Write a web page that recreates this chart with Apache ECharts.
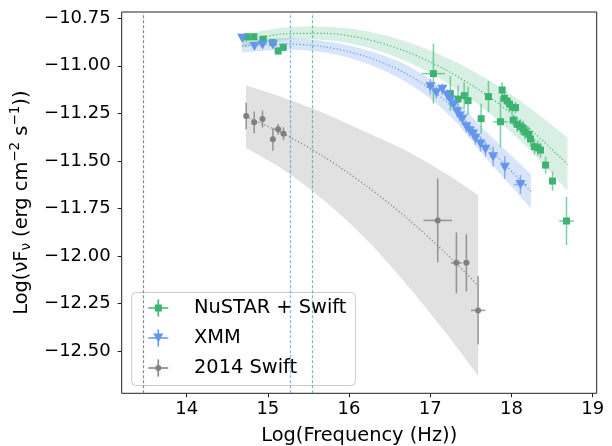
<!DOCTYPE html>
<html>
<head>
<meta charset="utf-8">
<script src="https://cdn.jsdelivr.net/npm/echarts@6/dist/echarts.min.js"></script>
<style>
  html, body { margin: 0; padding: 0; background: #fff; }
  #chart { width: 612px; height: 446px; }
</style>
</head>
<body>
<div id="chart"></div>
<script>
// ---- data (log units) ----
const xTicks = [14, 15, 16, 17, 18, 19];
const yTicks = [-12.5, -12.25, -12.0, -11.75, -11.5, -11.25, -11.0, -10.75];

// NuSTAR + Swift
const greenFreq = [14.745, 14.828, 14.942, 15.062, 15.127, 15.189, 17.039, 17.248, 17.343, 17.417, 17.466, 17.627, 17.717, 17.865, 17.886, 17.914, 17.947, 17.976, 18.009, 18.050, 18.021, 18.071, 18.111, 18.145, 18.164, 18.214, 18.235, 18.284, 18.325, 18.358, 18.420, 18.506, 18.678];
const greenFlux = [-10.847, -10.847, -10.860, -10.878, -10.922, -10.903, -11.041, -11.145, -11.175, -11.157, -11.183, -11.278, -11.162, -11.294, -11.127, -11.171, -11.185, -11.201, -11.218, -11.220, -11.285, -11.308, -11.320, -11.329, -11.347, -11.360, -11.385, -11.425, -11.431, -11.443, -11.522, -11.606, -11.816];
const greenFluxErr = [0.015, 0.015, 0.015, 0.015, 0.02, 0.02, 0.158, 0.092, 0.07, 0.07, 0.074, 0.079, 0.082, 0.134, 0.04, 0.03, 0.03, 0.03, 0.03, 0.03, 0.03, 0.04, 0.04, 0.04, 0.04, 0.04, 0.04, 0.04, 0.04, 0.04, 0.045, 0.05, 0.127];
const greenFreqErr = [0, 0, 0, 0, 0, 0, 0.144, 0.02, 0.02, 0.02, 0.02, 0.02, 0.02, 0.09, 0.02, 0.02, 0.02, 0.02, 0.02, 0.02, 0.02, 0.02, 0.02, 0.02, 0.02, 0.02, 0.02, 0.02, 0.02, 0.02, 0.02, 0.02, 0.09];

// XMM
const blueFreq = [14.683, 14.835, 14.934, 15.062, 17.001, 17.076, 17.149, 17.207, 17.248, 17.289, 17.331, 17.363, 17.396, 17.445, 17.486, 17.528, 17.556, 17.618, 17.680, 17.775, 17.918, 18.111];
const blueFlux = [-10.855, -10.899, -10.890, -10.890, -11.110, -11.141, -11.123, -11.153, -11.180, -11.206, -11.241, -11.264, -11.281, -11.320, -11.341, -11.359, -11.381, -11.411, -11.439, -11.478, -11.534, -11.624];
const blueFluxErr = [0.01, 0.01, 0.01, 0.01, 0.04, 0.03, 0.03, 0.03, 0.03, 0.03, 0.03, 0.03, 0.03, 0.03, 0.03, 0.03, 0.035, 0.04, 0.04, 0.053, 0.06, 0.05];
const blueFreqErr = [0, 0, 0, 0, 0.05, 0.03, 0.03, 0.03, 0.03, 0.03, 0.03, 0.03, 0.03, 0.03, 0.03, 0.03, 0.03, 0.03, 0.03, 0.04, 0.03, 0.08];

// 2014 Swift
const grayFreq = [14.733, 14.832, 14.934, 15.062, 15.127, 15.193, 17.092, 17.322, 17.445, 17.590];
const grayFlux = [-11.264, -11.297, -11.280, -11.386, -11.334, -11.357, -11.813, -12.036, -12.036, -12.286];
const grayFluxErr = [0.07, 0.057, 0.044, 0.06, 0.028, 0.033, 0.22, 0.16, 0.15, 0.18];
const grayFreqErr = [0, 0, 0, 0, 0, 0, 0.176, 0.068, 0.037, 0.088];

// model curves and their uncertainty bands
const greenModelX = [14.69, 15.2, 15.7, 16.2, 16.7, 17.2, 17.7, 18.2, 18.69];
const greenModel = [-10.870, -10.832, -10.829, -10.859, -10.924, -11.023, -11.155, -11.322, -11.518];
const greenUpper = [-10.835, -10.799, -10.794, -10.817, -10.872, -10.957, -11.070, -11.212, -11.378];
const greenLower = [-10.905, -10.865, -10.864, -10.901, -10.976, -11.089, -11.240, -11.432, -11.658];

const blueModelX = [14.68, 15.2, 15.7, 16.2, 16.7, 17.2, 17.7, 18.24];
const blueModel = [-10.895, -10.885, -10.900, -10.950, -11.040, -11.190, -11.420, -11.660];
const blueUpper = [-10.860, -10.855, -10.870, -10.915, -10.995, -11.135, -11.350, -11.570];
const blueLower = [-10.930, -10.915, -10.930, -10.985, -11.085, -11.245, -11.490, -11.750];

const grayModelX = [14.73, 15.2, 15.7, 16.2, 16.7, 17.2, 17.59];
const grayModel = [-11.267, -11.359, -11.481, -11.627, -11.796, -11.989, -12.156];
const grayUpper = [-11.102, -11.169, -11.251, -11.347, -11.446, -11.569, -11.680];
const grayLower = [-11.432, -11.549, -11.711, -11.907, -12.146, -12.409, -12.632];

const vLines = [13.46, 15.28, 15.555];

const GREEN = '#3cb371', BLUE = '#6495ed', GRAY = '#808080';
const FONT = 'DejaVu Sans';

const chart = echarts.init(document.getElementById('chart'));

function pairs(xs, ys) { return xs.map((x, i) => [x, ys[i]]); }

// Catmull-Rom through pixel points so the band edge is drawn smooth
function spline(p, n) {
  const out = [];
  for (let i = 0; i < p.length - 1; i++) {
    const p0 = p[Math.max(i - 1, 0)], p1 = p[i], p2 = p[i + 1], p3 = p[Math.min(i + 2, p.length - 1)];
    for (let k = 0; k < n; k++) {
      const t = k / n, t2 = t * t, t3 = t2 * t;
      out.push([0, 1].map(j => 0.5 * (2 * p1[j] + (p2[j] - p0[j]) * t +
        (2 * p0[j] - 5 * p1[j] + 4 * p2[j] - p3[j]) * t2 + (3 * p1[j] - p0[j] - 3 * p2[j] + p3[j]) * t3)));
    }
  }
  out.push(p[p.length - 1]);
  return out;
}

// shaded uncertainty band between lower and upper edges
function band(xs, lo, hi, color) {
  return {
    type: 'custom', z: 1, silent: true,
    data: xs.map((x, i) => [x, lo[i], hi[i]]),
    encode: { x: 0, y: [1, 2] },
    renderItem: function (params, api) {
      if (params.dataIndex !== 0) return;
      const up = xs.map((x, i) => api.coord([x, hi[i]]));
      const dn = xs.map((x, i) => api.coord([x, lo[i]]));
      const pts = spline(up, 10).concat(spline(dn, 10).reverse());
      return { type: 'polygon', shape: { points: pts }, style: { fill: color } };
    }
  };
}

function model(xs, ys, color) {
  return { type: 'line', data: pairs(xs, ys), symbol: 'none', smooth: 0.3, z: 2, silent: true,
    lineStyle: { color: color, width: 1.2, type: [1.2, 2.2] } };
}

function errorBars(freq, flux, fErr, xErr, color) {
  return {
    type: 'custom', z: 3, silent: true,
    data: freq.map((f, i) => [f, flux[i], fErr[i], xErr[i]]),
    encode: { x: 0, y: 1 },
    renderItem: function (params, api) {
      const x = api.value(0), y = api.value(1), ey = api.value(2), ex = api.value(3);
      const a = api.coord([x, y + ey]), b = api.coord([x, y - ey]);
      const c = api.coord([x - ex, y]), d = api.coord([x + ex, y]);
      const st = { stroke: color, lineWidth: 1.5 };
      return { type: 'group', children: [
        { type: 'line', shape: { x1: a[0], y1: a[1], x2: b[0], y2: b[1] }, style: st },
        { type: 'line', shape: { x1: c[0], y1: c[1], x2: d[0], y2: d[1] }, style: st }
      ] };
    }
  };
}

function markers(name, freq, flux, symbol, size, color, rotate) {
  return { name: name, type: 'scatter', data: pairs(freq, flux), symbol: symbol, symbolSize: size,
    symbolRotate: rotate || 0, z: 4, itemStyle: { color: color, opacity: 1 } };
}

const iconBars = 'M0 7.7h20v1.6h-20zM9.2 0h1.6v17h-1.6z';
const greenIcon = 'path://' + iconBars + 'M6.5 5h7v7h-7z';
const blueIcon = 'path://' + iconBars + 'M5 4h10l-5 9z';
const grayIcon = 'path://' + iconBars + 'M7 8.5a3 3 0 1 1 6 0a3 3 0 1 1 -6 0z';

const fmt = v => (v < 0 ? '\u2212' : '') + Math.abs(v).toFixed(2);

const option = {
  animation: false,
  grid: { left: 121.7, top: 12, right: 15.3, bottom: 52.7, outerBoundsMode: 'none', containLabel: false,
    show: true, borderColor: '#222', borderWidth: 1, backgroundColor: '#fff' },
  xAxis: {
    type: 'value', min: 13.2, max: 19.05,
    name: 'Log(Frequency (Hz))', nameLocation: 'middle', nameGap: 33,
    nameTextStyle: { fontFamily: FONT, fontSize: 19.4, color: '#000' },
    splitLine: { show: false },
    axisLine: { show: false },
    axisTick: { show: true, inside: false, length: 4, customValues: xTicks, lineStyle: { color: '#222' } },
    axisLabel: { customValues: xTicks, margin: 7, fontFamily: FONT, fontSize: 18, color: '#000' }
  },
  yAxis: {
    type: 'value', min: -12.722, max: -10.717,
    name: 'Log(\u03bdF{sub|\u03bd} (erg cm{sup|\u22122} s{sup|\u22121}))', nameLocation: 'middle', nameGap: 84,
    nameTextStyle: { fontFamily: FONT, fontSize: 19.4, color: '#000',
      rich: {
        sub: { fontFamily: FONT, fontSize: 13.5, color: '#000', padding: [8, 0, 0, 0] },
        sup: { fontFamily: FONT, fontSize: 13.5, color: '#000', padding: [0, 0, 14, 0] }
      } },
    splitLine: { show: false },
    axisLine: { show: false },
    axisTick: { show: true, inside: false, length: 4, customValues: yTicks, lineStyle: { color: '#222' } },
    axisLabel: { customValues: yTicks, margin: 11, fontFamily: FONT, fontSize: 18, color: '#000', formatter: fmt }
  },
  legend: {
    orient: 'vertical', left: 131.7, top: 292.5,
    padding: [6, 9, 8, 16.6], itemGap: 11, itemWidth: 20, itemHeight: 17,
    backgroundColor: 'rgba(255,255,255,0.8)', borderColor: '#cccccc', borderWidth: 1, borderRadius: 4,
    data: [
      { name: 'NuSTAR + Swift', icon: greenIcon },
      { name: 'XMM', icon: blueIcon },
      { name: '2014 Swift', icon: grayIcon }
    ],
    formatter: name => '{t|' + name + '}',
    textStyle: { fontFamily: FONT, fontSize: 19.4, color: '#000',
      rich: { t: { fontFamily: FONT, fontSize: 19.4, color: '#000', padding: [0, 0, 0, 20.7] } } }
  },
  series: [
    band(grayModelX, grayLower, grayUpper, 'rgba(128,128,128,0.24)'),
    band(blueModelX, blueLower, blueUpper, 'rgba(100,149,237,0.25)'),
    band(greenModelX, greenLower, greenUpper, 'rgba(60,179,113,0.2)'),
    {
      type: 'line', data: [], silent: true,
      markLine: {
        silent: true, symbol: ['none', 'none'], label: { show: false },
        data: [
          { xAxis: vLines[0], lineStyle: { color: '#888', width: 1.2, type: [3, 2] } },
          { xAxis: vLines[1], lineStyle: { color: 'rgba(100,149,237,0.75)', width: 1.2, type: [3, 2] } },
          { xAxis: vLines[2], lineStyle: { color: 'rgba(60,179,113,0.75)', width: 1.2, type: [3, 2] } }
        ]
      }
    },
    model(grayModelX, grayModel, GRAY),
    model(blueModelX, blueModel, BLUE),
    model(greenModelX, greenModel, GREEN),
    errorBars(grayFreq, grayFlux, grayFluxErr, grayFreqErr, 'rgba(128,128,128,0.8)'),
    errorBars(blueFreq, blueFlux, blueFluxErr, blueFreqErr, 'rgba(100,149,237,0.7)'),
    errorBars(greenFreq, greenFlux, greenFluxErr, greenFreqErr, 'rgba(60,179,113,0.65)'),
    markers('NuSTAR + Swift', greenFreq, greenFlux, 'rect', 7, GREEN),
    markers('XMM', blueFreq, blueFlux, 'triangle', [10, 9], BLUE, 180),
    markers('2014 Swift', grayFreq, grayFlux, 'circle', 6, GRAY)
  ]
};

chart.setOption(option);
</script>
</body>
</html>
